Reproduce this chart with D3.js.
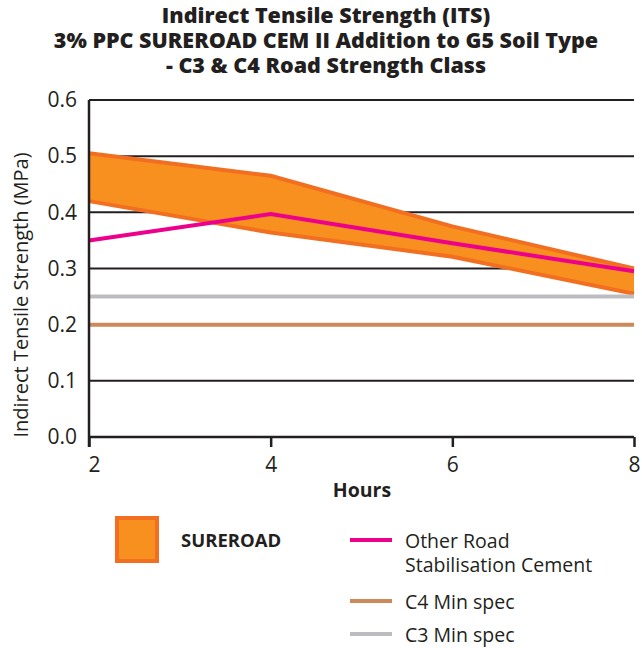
<!DOCTYPE html>
<html>
<head>
<meta charset="utf-8">
<script src="https://cdn.jsdelivr.net/npm/d3@7"></script>
<style>
body { margin: 0; background: #fff; }
text { font-family: "Open Sans", "Noto Sans", sans-serif; fill: #231f20; }
</style>
</head>
<body>
<div id="chart"></div>
<script>
// values
var hours = [2, 4, 6, 8];
var sureroadHigh = [0.505, 0.465, 0.375, 0.30];
var sureroadLow = [0.42, 0.364, 0.321, 0.255];
var otherCement = [0.35, 0.397, 0.345, 0.295];
var c4Spec = 0.2;
var c3Spec = 0.25;
var yTicks = [0, 0.1, 0.2, 0.3, 0.4, 0.5, 0.6];
var titleLines = ["Indirect Tensile Strength (ITS)", "3% PPC SUREROAD CEM II Addition to G5 Soil Type", "- C3 & C4 Road Strength Class"];

var width = 642, height = 648;
var margin = { left: 89, right: 8, top: 100, bottom: 211 };

var svg = d3.select("#chart").append("svg")
	.attr("width", width)
	.attr("height", height);

var x = d3.scaleLinear().domain([2, 8]).range([margin.left, width - margin.right]);
var y = d3.scaleLinear().domain([0, 0.6]).range([height - margin.bottom, margin.top]);

// title
svg.append("g").selectAll("text")
	.data(titleLines)
	.enter().append("text")
	.attr("x", 326)
	.attr("y", function (d, i) { return 23 + i * 25; })
	.attr("text-anchor", "middle")
	.style("font-family", "'Open Sans', sans-serif")
	.style("font-weight", 800)
	.style("font-size", "21.5px")
	.text(function (d) { return d; });

// gridlines
svg.append("g").selectAll("line")
	.data(yTicks.slice(1))
	.enter().append("line")
	.attr("x1", x(2)).attr("x2", x(8))
	.attr("y1", function (d) { return y(d); })
	.attr("y2", function (d) { return y(d); })
	.attr("stroke", "#231f20")
	.attr("stroke-width", 2);

// band
var pts = hours.map(function (h, i) { return { h: h, lo: sureroadLow[i], hi: sureroadHigh[i] }; });
svg.append("path")
	.datum(pts)
	.attr("d", d3.area()
		.x(function (d) { return x(d.h); })
		.y0(function (d) { return y(d.lo); })
		.y1(function (d) { return y(d.hi); }))
	.attr("fill", "#f7901e");
[sureroadHigh, sureroadLow].forEach(function (s) {
	svg.append("path")
		.datum(s)
		.attr("d", d3.line().x(function (d, i) { return x(hours[i]); }).y(function (d) { return y(d); }))
		.attr("fill", "none")
		.attr("stroke", "#f26f21")
		.attr("stroke-width", 4);
});

// spec lines
svg.append("line")
	.attr("x1", x(2)).attr("x2", x(8))
	.attr("y1", y(c3Spec)).attr("y2", y(c3Spec))
	.attr("stroke", "#bdbcc0").attr("stroke-width", 4);
svg.append("line")
	.attr("x1", x(2)).attr("x2", x(8))
	.attr("y1", y(c4Spec)).attr("y2", y(c4Spec))
	.attr("stroke", "#cc8a5b").attr("stroke-width", 4);

// other cement
svg.append("path")
	.datum(otherCement)
	.attr("d", d3.line().x(function (d, i) { return x(hours[i]); }).y(function (d) { return y(d); }))
	.attr("fill", "none")
	.attr("stroke", "#ec008c")
	.attr("stroke-width", 4);

// axes
var xAxis = svg.append("g")
	.attr("transform", "translate(0," + y(0) + ")")
	.call(d3.axisBottom(x).tickValues(hours).tickSize(10).tickPadding(10).tickFormat(d3.format("d")));
xAxis.select(".domain").attr("stroke", "#231f20").attr("stroke-width", 2.5).attr("d", "M" + x(2) + ",0H" + x(8));
xAxis.selectAll(".tick line").attr("stroke", "#231f20").attr("stroke-width", 2.5);
xAxis.selectAll(".tick text").style("font-size", "21px").style("fill", "#231f20")
	.attr("dx", function (d, i) { return i == 0 ? 5 : 0; });

var yAxis = svg.append("g")
	.attr("transform", "translate(" + x(2) + ",0)")
	.call(d3.axisLeft(y).tickValues(yTicks).tickSize(0).tickPadding(12).tickFormat(d3.format(".1f")));
yAxis.select(".domain").attr("stroke", "#231f20").attr("stroke-width", 2.5).attr("d", "M0," + y(0.6) + "V" + (y(0) + 10));
yAxis.selectAll(".tick text").style("font-size", "21px").style("fill", "#231f20");

// axis titles
svg.append("text")
	.attr("x", 362).attr("y", 497)
	.attr("text-anchor", "middle")
	.style("font-weight", 700)
	.style("font-size", "19.5px")
	.text("Hours");
svg.append("text")
	.attr("transform", "translate(28,295) rotate(-90)")
	.attr("text-anchor", "middle")
	.style("font-size", "20px")
	.text("Indirect Tensile Strength (MPa)");

// legend
svg.append("rect")
	.attr("x", 117).attr("y", 518).attr("width", 40).attr("height", 43)
	.attr("fill", "#f7901e").attr("stroke", "#f26f21").attr("stroke-width", 4);
svg.append("text").attr("x", 181).attr("y", 547)
	.style("font-weight", 700).style("font-size", "18.5px").text("SUREROAD");

var legendLines = [
	{ color: "#ec008c", y: 540, label: ["Other Road", "Stabilisation Cement"] },
	{ color: "#cc8a5b", y: 601, label: ["C4 Min spec"] },
	{ color: "#bdbcc0", y: 634, label: ["C3 Min spec"] }
];
var lg = svg.append("g").selectAll("g").data(legendLines).enter().append("g");
lg.append("line")
	.attr("x1", 350).attr("x2", 392)
	.attr("y1", function (d) { return d.y; }).attr("y2", function (d) { return d.y; })
	.attr("stroke", function (d) { return d.color; })
	.attr("stroke-width", 4);
lg.each(function (d) {
	d3.select(this).selectAll("text").data(d.label).enter().append("text")
		.attr("x", 405)
		.attr("y", function (t, i) { return d.y + 8 + i * 24; })
		.style("font-size", "19.5px")
		.text(function (t) { return t; });
});
</script>
</body>
</html>
